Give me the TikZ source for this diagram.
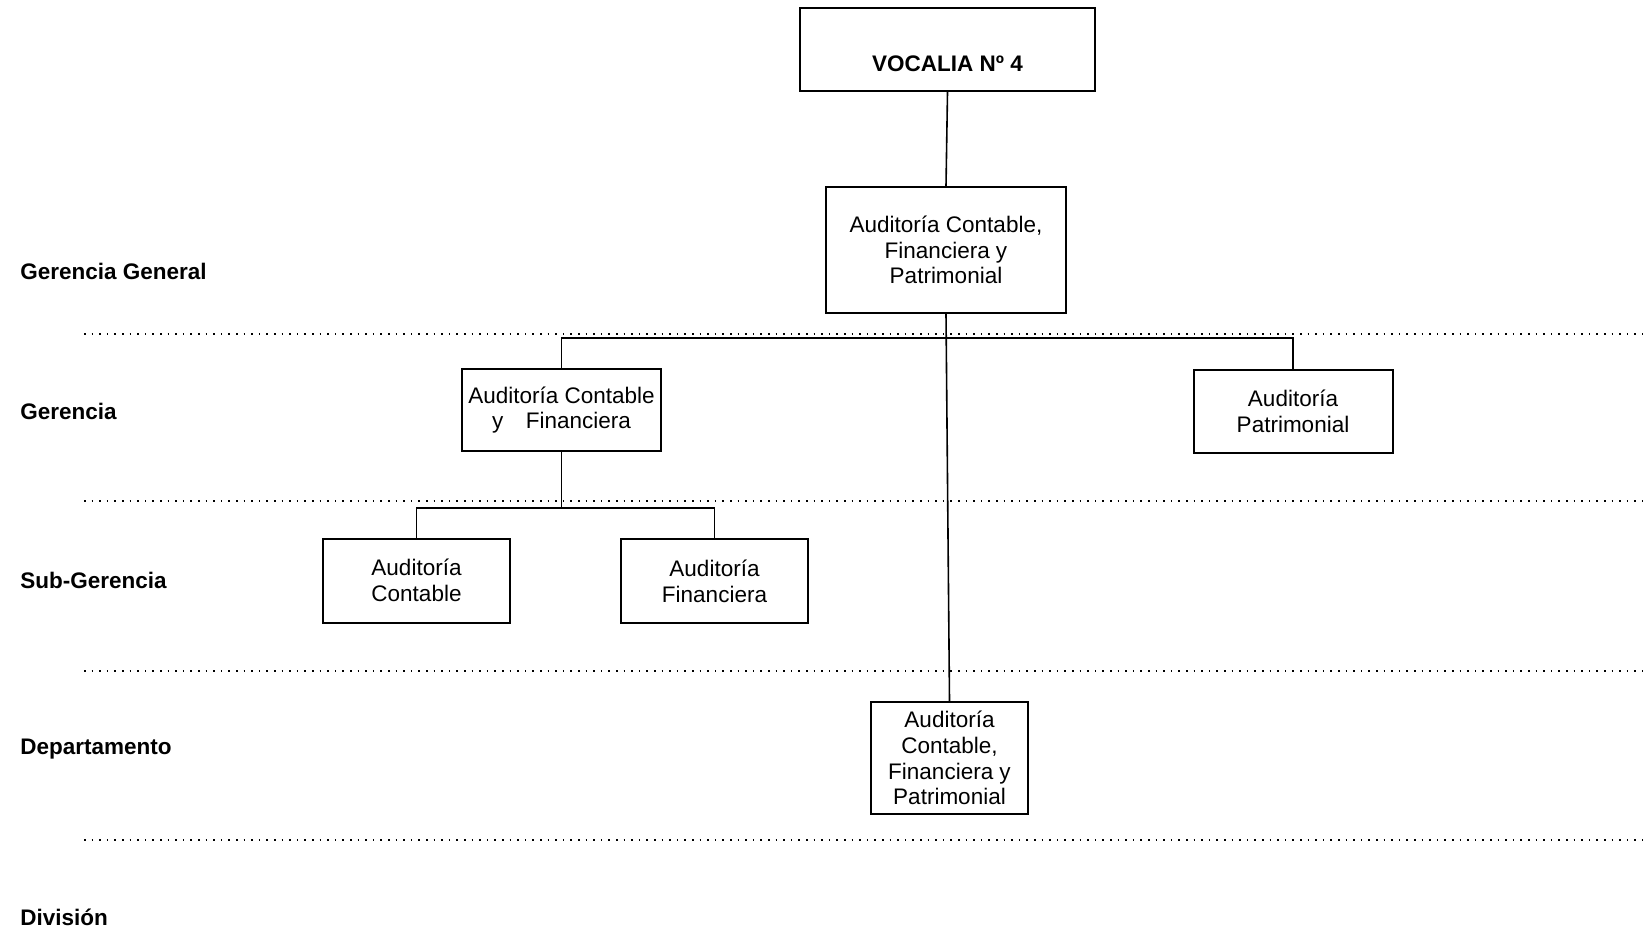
\documentclass[tikz,border=0pt]{standalone}
\usepackage{fontspec}
\setmainfont{Liberation Sans}
\usepackage{tikz}
\tikzset{
    box_node/.style = {draw=black, line width=1pt, rectangle, align=center, inner sep=1pt, font=\fontsize{11.25}{12.9}\selectfont},
    lvl_label/.style = {anchor=west, inner sep=0pt, font=\fontsize{11.25}{12.9}\selectfont\bfseries},
    link/.style = {draw=black, line width=0.8pt},
    sep_line/.style = {draw=black, line width=0.8pt, dash pattern=on 0.8pt off 3pt}
}

\begin{document}
\begin{tikzpicture}
            [x=0.5pt, y=-0.5pt]
            \useasboundingbox (0,0) rectangle (1643,932);

            % boxes
            \node [box_node, minimum width=147.5pt, minimum height=41.5pt] (vocalia) at (947.5,49.5) {\strut\\\textbf{VOCALIA Nº 4}};
            \node [box_node, minimum width=120pt, minimum height=63pt] (acfp) at (946,250) {Auditoría Contable,\\Financiera y\\Patrimonial};
            \node [box_node, minimum width=99.5pt, minimum height=41pt] (acf) at (561.5,410) {Auditoría Contable\\y\quad Financiera};
            \node [box_node, minimum width=99.5pt, minimum height=41.5pt] (ap) at (1293,411) {Auditoría\\Patrimonial};
            \node [box_node, minimum width=93.5pt, minimum height=42pt] (ac) at (416.5,580.5) {Auditoría\\Contable};
            \node [box_node, minimum width=93.5pt, minimum height=42pt] (af) at (714.5,581) {Auditoría\\Financiera};
            \node [box_node, minimum width=78.5pt, minimum height=56pt] (dept) at (949.5,758) {Auditoría\\Contable,\\Financiera y\\Patrimonial};

            % level names
            \node [lvl_label] (l_gg) at (20,271) {Gerencia General};
            \node [lvl_label] (l_g) at (20,411) {Gerencia};
            \node [lvl_label] (l_sg) at (20,580) {Sub-Gerencia};
            \node [lvl_label] (l_d) at (20,749) {Departamento};
            \node [lvl_label] (l_div) at (20,917) {División};

            % dotted separators
            \foreach \y in {334,501,671,840}
                \draw [sep_line] (84,\y) -- (1643,\y);

            % connectors
            \coordinate (bus1) at (0,338);
            \coordinate (bus2) at (0,508);
            \draw [link] (vocalia.south) -- (acfp.north);
            \draw [link] (acfp.south) -- (dept.north);
            \draw [link] (acf.north) -- (acf.north |- bus1) -- (ap.north |- bus1) -- (ap.north);
            \draw [link] (acf.south) -- (acf.south |- bus2);
            \draw [link] (ac.north) -- (ac.north |- bus2) -- (af.north |- bus2) -- (af.north);
\end{tikzpicture}
\end{document}
